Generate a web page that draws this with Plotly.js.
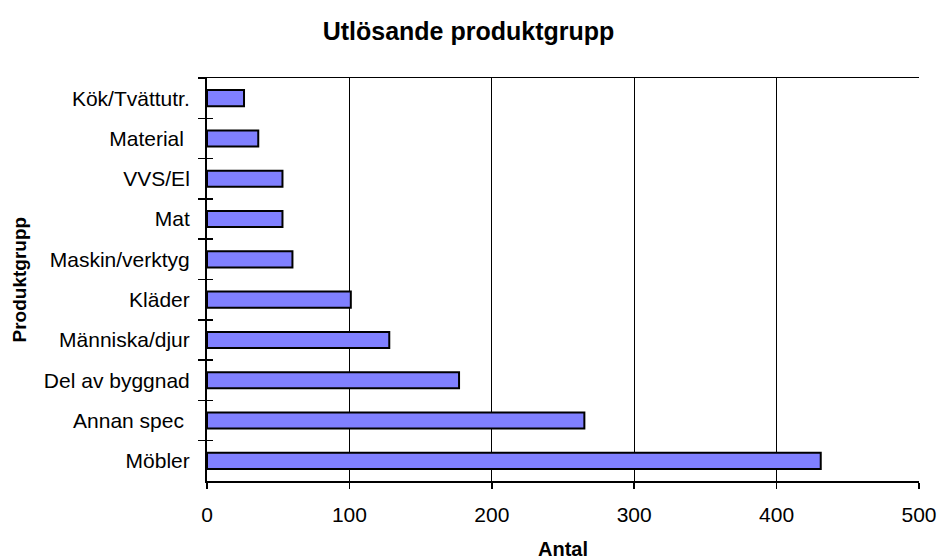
<!DOCTYPE html>
<html>
<head>
<meta charset="utf-8">
<script src="https://cdn.plot.ly/plotly-3.0.1.min.js"></script>
<style>html,body{margin:0;padding:0;background:#fff;}#chart{width:937px;height:560px;}</style>
</head>
<body>
<div id="chart"></div>
<script>
// Categories listed top to bottom as they appear in the chart
const categories = ["Kök/Tvättutr.", "Material\u00a0", "VVS/El", "Mat", "Maskin/verktyg", "Kläder", "Människa/djur", "Del av byggnad", "Annan spec\u00a0", "Möbler"];
const values = [26, 36, 53, 53, 60, 101, 128, 177, 265, 431];
const xTicks = [0, 100, 200, 300, 400, 500];

const chartTitle = "Utlösande produktgrupp";
const xTitle = "Antal";
const yTitle = "Produktgrupp";

const FONT = "Liberation Sans, Arial, sans-serif";

const traces = [
  {
    type: "bar",
    orientation: "h",
    y: categories,
    x: values,
    xaxis: "x",
    yaxis: "y",
    marker: { color: "#8080FF", line: { color: "#000000", width: 2 } },
    hoverinfo: "x+y",
    showlegend: false
  },
  {
    type: "bar",
    orientation: "h",
    y: categories,
    x: values,
    xaxis: "x",
    yaxis: "y2",
    marker: { color: "rgba(0,0,0,0)", line: { width: 0 } },
    hoverinfo: "skip",
    showlegend: false
  }
];

const layout = {
  width: 937,
  height: 560,
  paper_bgcolor: "#ffffff",
  plot_bgcolor: "#ffffff",
  margin: { l: 207, r: 18, t: 78, b: 79 },
  bargap: 0.6,
  font: { family: FONT, color: "#000000", size: 21 },
  title: {
    text: "<b>" + chartTitle + "</b>",
    font: { family: FONT, size: 25, color: "#000000" },
    xref: "container", x: 0.5, xanchor: "center",
    yref: "container", y: 1 - 31 / 560, yanchor: "middle"
  },
  annotations: [
    {
      text: "<b>" + yTitle + "</b>",
      textangle: -90,
      xref: "paper", yref: "paper",
      x: (19 - 207) / 712, y: 0.5,
      xanchor: "center", yanchor: "middle",
      showarrow: false,
      font: { family: FONT, size: 19, color: "#000000" }
    }
  ],
  xaxis: {
    range: [0, 500],
    tickvals: xTicks,
    ticktext: xTicks.map(String),
    showgrid: true,
    gridcolor: "#000000",
    gridwidth: 1,
    zeroline: false,
    showline: true,
    linecolor: "#000000",
    linewidth: 1.5,
    mirror: true,
    ticks: "outside",
    ticklen: 6,
    tickwidth: 1.5,
    tickcolor: "#000000",
    ticklabelstandoff: 8,
    tickfont: { family: FONT, size: 21, color: "#000000" },
    title: { text: "<b>" + xTitle + "</b>", font: { family: FONT, size: 20, color: "#000000" }, standoff: 17 },
    fixedrange: true
  },
  yaxis: {
    type: "category",
    autorange: "reversed",
    tickson: "boundaries",
    showgrid: false,
    zeroline: false,
    showline: true,
    linecolor: "#000000",
    linewidth: 2,
    ticks: "outside",
    ticklen: 7,
    tickwidth: 1.5,
    tickcolor: "#000000",
    ticklabelstandoff: 11,
    tickfont: { family: FONT, size: 21, color: "#000000" },
    fixedrange: true
  },
  yaxis2: {
    type: "category",
    overlaying: "y",
    matches: "y",
    side: "left",
    tickson: "boundaries",
    showgrid: false,
    zeroline: false,
    showline: false,
    ticks: "inside",
    ticklen: 6,
    tickwidth: 1.5,
    tickcolor: "#000000",
    showticklabels: false,
    fixedrange: true
  }
};

Plotly.newPlot("chart", traces, layout, { displayModeBar: false, staticPlot: true });
</script>
</body>
</html>
